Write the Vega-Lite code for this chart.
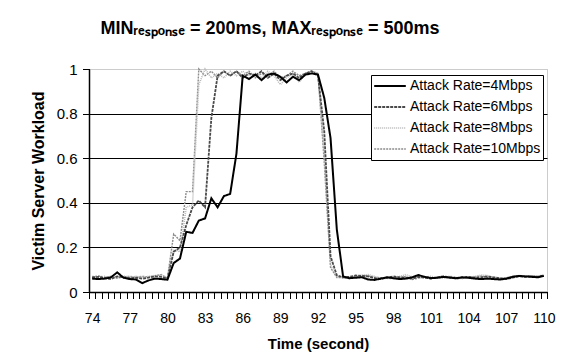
{
  "$schema": "https://vega.github.io/schema/vega-lite/v6.json",
  "width": 458,
  "height": 223,
  "autosize": {"type": "none"},
  "padding": {"left": 89, "top": 69, "right": 16, "bottom": 72},
  "background": "white",
  "title": {"text": "MINᵣₑₛₚₒₙₛₑ = 200ms, MAXᵣₑₛₚₒₙₛₑ = 500ms", "anchor": "middle", "dx": -48, "offset": 24, "fontSize": 18, "font": "Liberation Sans", "fontWeight": "bold", "color": "black"},
  "config": {
    "font": "Liberation Sans",
    "view": {"stroke": "#999999", "strokeDash": [1, 1], "strokeWidth": 1},
    "axis": {"ticks": true, "tickColor": "#000000", "tickOpacity": 1, "tickWidth": 1, "tickCap": "square", "tickRound": true}
  },
  "data": {"values": [
    {"t": 74, "4Mbps": 0.060, "6Mbps": 0.065, "8Mbps": 0.070, "10Mbps": 0.068},
    {"t": 74.5, "4Mbps": 0.058, "6Mbps": 0.068, "8Mbps": 0.066, "10Mbps": 0.072},
    {"t": 75, "4Mbps": 0.060, "6Mbps": 0.062, "8Mbps": 0.070, "10Mbps": 0.066},
    {"t": 75.5, "4Mbps": 0.066, "6Mbps": 0.058, "8Mbps": 0.064, "10Mbps": 0.070},
    {"t": 76, "4Mbps": 0.088, "6Mbps": 0.070, "8Mbps": 0.068, "10Mbps": 0.062},
    {"t": 76.5, "4Mbps": 0.064, "6Mbps": 0.066, "8Mbps": 0.072, "10Mbps": 0.068},
    {"t": 77, "4Mbps": 0.058, "6Mbps": 0.062, "8Mbps": 0.066, "10Mbps": 0.070},
    {"t": 77.5, "4Mbps": 0.056, "6Mbps": 0.064, "8Mbps": 0.070, "10Mbps": 0.066},
    {"t": 78, "4Mbps": 0.040, "6Mbps": 0.060, "8Mbps": 0.066, "10Mbps": 0.070},
    {"t": 78.5, "4Mbps": 0.052, "6Mbps": 0.064, "8Mbps": 0.070, "10Mbps": 0.068},
    {"t": 79, "4Mbps": 0.060, "6Mbps": 0.070, "8Mbps": 0.074, "10Mbps": 0.072},
    {"t": 79.5, "4Mbps": 0.058, "6Mbps": 0.068, "8Mbps": 0.076, "10Mbps": 0.078},
    {"t": 80, "4Mbps": 0.055, "6Mbps": 0.060, "8Mbps": 0.065, "10Mbps": 0.062},
    {"t": 80.5, "4Mbps": 0.130, "6Mbps": 0.180, "8Mbps": 0.190, "10Mbps": 0.260},
    {"t": 81, "4Mbps": 0.150, "6Mbps": 0.200, "8Mbps": 0.180, "10Mbps": 0.230},
    {"t": 81.5, "4Mbps": 0.270, "6Mbps": 0.300, "8Mbps": 0.380, "10Mbps": 0.450},
    {"t": 82, "4Mbps": 0.265, "6Mbps": 0.380, "8Mbps": 0.390, "10Mbps": 0.450},
    {"t": 82.5, "4Mbps": 0.320, "6Mbps": 0.410, "8Mbps": 0.930, "10Mbps": 1.000},
    {"t": 83, "4Mbps": 0.330, "6Mbps": 0.380, "8Mbps": 1.000, "10Mbps": 0.970},
    {"t": 83.5, "4Mbps": 0.420, "6Mbps": 0.780, "8Mbps": 0.960, "10Mbps": 0.990},
    {"t": 84, "4Mbps": 0.380, "6Mbps": 0.970, "8Mbps": 0.980, "10Mbps": 0.960},
    {"t": 84.5, "4Mbps": 0.430, "6Mbps": 0.990, "8Mbps": 0.960, "10Mbps": 0.990},
    {"t": 85, "4Mbps": 0.440, "6Mbps": 0.970, "8Mbps": 0.990, "10Mbps": 0.970},
    {"t": 85.5, "4Mbps": 0.620, "6Mbps": 0.990, "8Mbps": 0.970, "10Mbps": 0.990},
    {"t": 86, "4Mbps": 0.970, "6Mbps": 0.960, "8Mbps": 0.990, "10Mbps": 0.970},
    {"t": 86.5, "4Mbps": 0.955, "6Mbps": 0.980, "8Mbps": 0.970, "10Mbps": 0.990},
    {"t": 87, "4Mbps": 0.975, "6Mbps": 0.970, "8Mbps": 0.980, "10Mbps": 0.960},
    {"t": 87.5, "4Mbps": 0.950, "6Mbps": 0.990, "8Mbps": 0.960, "10Mbps": 0.980},
    {"t": 88, "4Mbps": 0.975, "6Mbps": 0.960, "8Mbps": 0.990, "10Mbps": 0.970},
    {"t": 88.5, "4Mbps": 0.980, "6Mbps": 0.980, "8Mbps": 0.970, "10Mbps": 0.990},
    {"t": 89, "4Mbps": 0.965, "6Mbps": 0.950, "8Mbps": 0.930, "10Mbps": 0.960},
    {"t": 89.5, "4Mbps": 0.940, "6Mbps": 0.970, "8Mbps": 0.960, "10Mbps": 0.970},
    {"t": 90, "4Mbps": 0.965, "6Mbps": 0.980, "8Mbps": 0.980, "10Mbps": 0.990},
    {"t": 90.5, "4Mbps": 0.950, "6Mbps": 0.960, "8Mbps": 0.940, "10Mbps": 0.970},
    {"t": 91, "4Mbps": 0.975, "6Mbps": 0.980, "8Mbps": 0.980, "10Mbps": 0.980},
    {"t": 91.5, "4Mbps": 0.980, "6Mbps": 0.990, "8Mbps": 0.990, "10Mbps": 0.990},
    {"t": 92, "4Mbps": 0.975, "6Mbps": 0.970, "8Mbps": 0.980, "10Mbps": 0.980},
    {"t": 92.5, "4Mbps": 0.870, "6Mbps": 0.720, "8Mbps": 0.620, "10Mbps": 0.580},
    {"t": 93, "4Mbps": 0.690, "6Mbps": 0.160, "8Mbps": 0.120, "10Mbps": 0.110},
    {"t": 93.5, "4Mbps": 0.280, "6Mbps": 0.075, "8Mbps": 0.070, "10Mbps": 0.065},
    {"t": 94, "4Mbps": 0.070, "6Mbps": 0.066, "8Mbps": 0.062, "10Mbps": 0.064},
    {"t": 94.5, "4Mbps": 0.062, "6Mbps": 0.068, "8Mbps": 0.066, "10Mbps": 0.060},
    {"t": 95, "4Mbps": 0.064, "6Mbps": 0.074, "8Mbps": 0.070, "10Mbps": 0.066},
    {"t": 95.5, "4Mbps": 0.066, "6Mbps": 0.072, "8Mbps": 0.076, "10Mbps": 0.074},
    {"t": 96, "4Mbps": 0.056, "6Mbps": 0.070, "8Mbps": 0.078, "10Mbps": 0.072},
    {"t": 96.5, "4Mbps": 0.054, "6Mbps": 0.062, "8Mbps": 0.070, "10Mbps": 0.066},
    {"t": 97, "4Mbps": 0.060, "6Mbps": 0.058, "8Mbps": 0.062, "10Mbps": 0.064},
    {"t": 97.5, "4Mbps": 0.066, "6Mbps": 0.064, "8Mbps": 0.060, "10Mbps": 0.062},
    {"t": 98, "4Mbps": 0.062, "6Mbps": 0.070, "8Mbps": 0.066, "10Mbps": 0.060},
    {"t": 98.5, "4Mbps": 0.058, "6Mbps": 0.066, "8Mbps": 0.070, "10Mbps": 0.064},
    {"t": 99, "4Mbps": 0.060, "6Mbps": 0.064, "8Mbps": 0.078, "10Mbps": 0.070},
    {"t": 99.5, "4Mbps": 0.066, "6Mbps": 0.060, "8Mbps": 0.068, "10Mbps": 0.056},
    {"t": 100, "4Mbps": 0.076, "6Mbps": 0.068, "8Mbps": 0.062, "10Mbps": 0.062},
    {"t": 100.5, "4Mbps": 0.068, "6Mbps": 0.064, "8Mbps": 0.066, "10Mbps": 0.068},
    {"t": 101, "4Mbps": 0.062, "6Mbps": 0.060, "8Mbps": 0.070, "10Mbps": 0.064},
    {"t": 101.5, "4Mbps": 0.064, "6Mbps": 0.066, "8Mbps": 0.064, "10Mbps": 0.062},
    {"t": 102, "4Mbps": 0.068, "6Mbps": 0.070, "8Mbps": 0.062, "10Mbps": 0.066},
    {"t": 102.5, "4Mbps": 0.064, "6Mbps": 0.066, "8Mbps": 0.068, "10Mbps": 0.070},
    {"t": 103, "4Mbps": 0.062, "6Mbps": 0.060, "8Mbps": 0.064, "10Mbps": 0.066},
    {"t": 103.5, "4Mbps": 0.066, "6Mbps": 0.064, "8Mbps": 0.060, "10Mbps": 0.062},
    {"t": 104, "4Mbps": 0.064, "6Mbps": 0.068, "8Mbps": 0.066, "10Mbps": 0.064},
    {"t": 104.5, "4Mbps": 0.060, "6Mbps": 0.064, "8Mbps": 0.070, "10Mbps": 0.068},
    {"t": 105, "4Mbps": 0.058, "6Mbps": 0.066, "8Mbps": 0.076, "10Mbps": 0.072},
    {"t": 105.5, "4Mbps": 0.060, "6Mbps": 0.070, "8Mbps": 0.074, "10Mbps": 0.066},
    {"t": 106, "4Mbps": 0.058, "6Mbps": 0.066, "8Mbps": 0.064, "10Mbps": 0.060},
    {"t": 106.5, "4Mbps": 0.056, "6Mbps": 0.062, "8Mbps": 0.060, "10Mbps": 0.058},
    {"t": 107, "4Mbps": 0.060, "6Mbps": 0.058, "8Mbps": 0.062, "10Mbps": 0.064},
    {"t": 107.5, "4Mbps": 0.068, "6Mbps": 0.064, "8Mbps": 0.070, "10Mbps": 0.070},
    {"t": 108, "4Mbps": 0.072, "6Mbps": 0.070, "8Mbps": 0.074, "10Mbps": 0.072},
    {"t": 108.5, "4Mbps": 0.070, "6Mbps": 0.068, "8Mbps": 0.072, "10Mbps": 0.070},
    {"t": 109, "4Mbps": 0.068, "6Mbps": 0.070, "8Mbps": 0.070, "10Mbps": 0.072},
    {"t": 109.5, "4Mbps": 0.066, "6Mbps": 0.068, "8Mbps": 0.072, "10Mbps": 0.070},
    {"t": 110, "4Mbps": 0.072, "6Mbps": 0.074, "8Mbps": 0.076, "10Mbps": 0.070}
  ]},
  "transform": [{"fold": ["10Mbps", "8Mbps", "6Mbps", "4Mbps"], "as": ["rate", "load"]}],
  "mark": {"type": "line"},
  "encoding": {
    "x": {
      "field": "t", "type": "quantitative",
      "scale": {"domain": [73.75, 110.25], "nice": false, "zero": false},
      "axis": {
        "zindex": 1,
        "title": "Time (second)",
        "titleFontSize": 15, "titleFontWeight": "bold", "titleColor": "black", "titlePadding": 11,
        "tickCount": 500,
        "values": [73.75, 74.25, 74.75, 75.25, 75.75, 76.25, 76.75, 77.25, 77.75, 78.25, 78.75, 79.25, 79.75, 80.25, 80.75, 81.25, 81.75, 82.25, 82.75, 83.25, 83.75, 84.25, 84.75, 85.25, 85.75, 86.25, 86.75, 87.25, 87.75, 88.25, 88.75, 89.25, 89.75, 90.25, 90.75, 91.25, 91.75, 92.25, 92.75, 93.25, 93.75, 94.25, 94.75, 95.25, 95.75, 96.25, 96.75, 97.25, 97.75, 98.25, 98.75, 99.25, 99.75, 100.25, 100.75, 101.25, 101.75, 102.25, 102.75, 103.25, 103.75, 104.25, 104.75, 105.25, 105.75, 106.25, 106.75, 107.25, 107.75, 108.25, 108.75, 109.25, 109.75, 110.25],
        "labelExpr": "(datum.value + 0.25 - 74) % 3 == 0 ? format(datum.value + 0.25, 'd') : ''",
        "labelOffset": 3.14,
        "grid": false,
        "domainColor": "black", "domainWidth": 1.5,
        "tickSize": 6,
        "labelFontSize": 14, "labelColor": "black", "labelPadding": 13,
        "labelOverlap": false, "labelFlush": false, "labelBound": false
      }
    },
    "y": {
      "field": "load", "type": "quantitative",
      "scale": {"domain": [0, 1], "nice": false},
      "axis": {
        "title": "Victim Server Workload",
        "titleFontSize": 16, "titleFontWeight": "bold", "titleColor": "black", "titlePadding": 10,
        "values": [0, 0.2, 0.4, 0.6, 0.8, 1],
        "format": "~g",
        "grid": true, "gridColor": "black", "gridWidth": 1,
        "gridOpacity": {"condition": {"test": "datum.value <= 0 || datum.value >= 1", "value": 0}, "value": 1},
        "domainColor": "black", "domainWidth": 1.5,
        "tickSize": 6,
        "labelFontSize": 15, "labelColor": "black", "labelPadding": 6
      }
    },
    "color": {
      "field": "rate", "type": "nominal",
      "scale": {"domain": ["4Mbps", "6Mbps", "8Mbps", "10Mbps"], "range": ["#000000", "#4a4a4a", "#b8b8b8", "#8c8c8c"]},
      "legend": {
        "orient": "none", "legendX": 282, "legendY": 6, "title": null,
        "strokeColor": "black", "fillColor": "white", "padding": 2,
        "labelFontSize": 14, "labelColor": "black", "labelExpr": "'Attack Rate=' + datum.label",
        "symbolType": "stroke", "symbolSize": 1000, "clipHeight": 18, "rowPadding": 3, "labelOffset": 3
      }
    },
    "strokeDash": {
      "field": "rate", "type": "nominal",
      "scale": {"domain": ["4Mbps", "6Mbps", "8Mbps", "10Mbps"], "range": [[1, 0], [3, 1], [1, 1], [2, 1]]}
    },
    "strokeWidth": {
      "field": "rate", "type": "nominal",
      "scale": {"domain": ["4Mbps", "6Mbps", "8Mbps", "10Mbps"], "range": [2, 1.4, 2, 2]}
    }
  }
}
